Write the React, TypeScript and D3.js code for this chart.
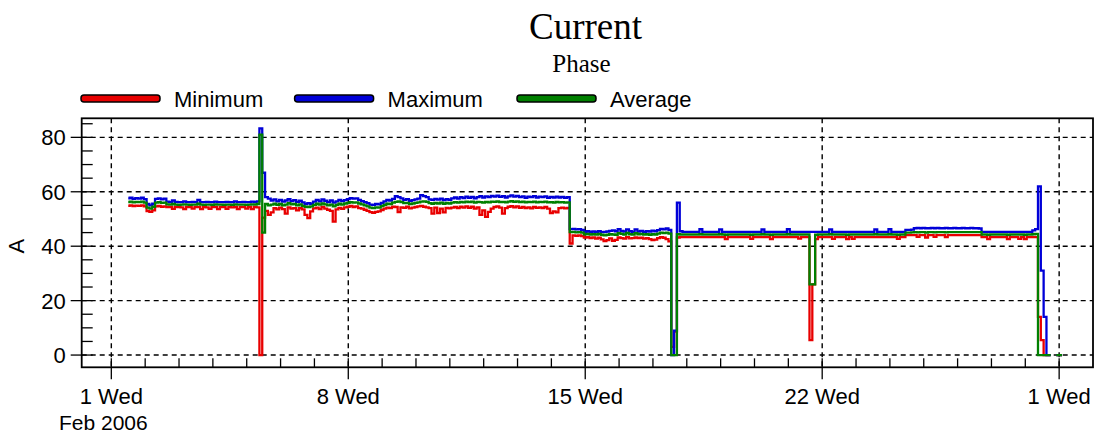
import React from 'react';
import * as d3 from 'd3';

const title = 'Current';
const subtitle = 'Phase';
const yAxisLabel = 'A';
const seriesNames = ['Minimum', 'Maximum', 'Average'];
const seriesColors = ['#e80000', '#0000d8', '#008000'];
const yTicks = [0, 20, 40, 60, 80];
const yMinorTicks = [0, 5, 10, 15, 20, 25, 30, 35, 40, 45, 50, 55, 60, 65, 70, 75, 80, 85];
const xTickDates = ['2006-02-01', '2006-02-08', '2006-02-15', '2006-02-22', '2006-03-01'];
const xTickLabels = ['1 Wed', '8 Wed', '15 Wed', '22 Wed', '1 Wed'];
const xSubLabel = 'Feb 2006';
const xDomain = ['2006-01-31T03:00:00Z', '2006-03-02T00:00:00Z'];
const yDomain = [-4.5, 87];
const firstSample = '2006-02-01T12:00:00Z';
const sampleStepHours = 2;

// Maximum (A), one value per 2-hour sample
const maxVals: (number | null)[] = [
  57.6, 57.8, 57.4, 57.7, 57.5, 57.8, 57.3,
  55.5, 55.0, 55.6,
  57.4, 57.6, 57.2, 57.5,
  56.4, 56.2, 56.8, 56.3, 56.2, 56.2, 56.5, 56.2, 56.2, 56.3,
  56.2, 57.0, 56.2, 56.2, 56.3, 56.2, 56.2, 56.4, 56.2, 56.2,
  56.2, 56.3, 56.2, 56.2, 56.5, 56.2, 56.2, 56.3, 56.2, 56.2,
  56.4, 56.2, 56.5,
  83.3, 67, 58, 57.5, 56.8, 57.2, 56.5, 57, 56.4, 56.8,
  57.3, 56.6, 56.9, 56.3, 56.7, 56.1, 55.5, 55.8, 55.6, 56.4,
  57, 56.5, 57.2, 56.7, 56.2, 56.8, 56, 56.5, 57, 56.6,
  56.9, 57.3, 57.7, 57.5, 57.6, 57, 56.6, 56.2, 55.8, 55.3,
  55.2, 55.5, 55.4, 55.9, 56.5, 57, 56.8, 57.4, 58.4, 58,
  57.6, 57, 57.3, 56.7, 56.9, 57.2, 57.5, 58.8, 58.4, 58,
  57.2, 57, 57.4, 57.1, 57.5, 56.9, 57.3, 57, 57.6, 57.9,
  57.5, 58, 57.7, 58.2, 57.8, 58.1, 57.6, 58, 58.4, 57.9,
  58.3, 58, 58.5, 58.2, 58.6, 58.1, 58.4, 57.9, 58.3, 58.7,
  58.2, 58.5, 58, 58.3, 57.8, 58.2, 58, 58.4, 57.9, 58.2,
  58, 58.3, 57.8, 58.1, 57.9, 58.2, 57.9, 58.1, 57.8, 58,
  46.3, 46.4, 46.2, 46.3, 46, 45.3, 45.5, 45.2, 45.4, 45.3,
  45.5, 45.2, 45.3, 45.4, 45.6, 45.8, 45.5, 46.3, 45.6, 45.4,
  46.2, 45.5, 45.3, 46.2, 45.4, 45.6, 45.3, 45.5, 45.4, 45.7,
  45.5, 45.9, 46.4, 46.2, 46.5, 46, 0, 9, 56,
  45.5, 45.3, 45.3, 45.3, 45.3, 45.3, 45.3, 46.3, 45.3, 45.3,
  45.3, 45.3, 45.3, 45.3, 46.2, 45.3, 45.3, 45.3, 45.3, 45.3,
  45.3, 45.3, 45.3, 45.3, 45.3, 45.3, 45.3, 45.3, 45.3, 46.2,
  45.3, 45.3, 45.3, 45.3, 45.3, 45.3, 45.3, 45.3, 46.3, 45.3,
  45.3, 45.3, 45.3, 45.3, 45.3, 45.3,
  45.3, 45.3,
  45.3, 45.3, 45.3, 45.3, 45.3, 46.2, 45.3, 45.3, 45.3, 45.3,
  45.3, 45.3, 45.3, 45.3, 45.3, 45.3, 45.3, 45.3, 45.3, 45.3,
  45.3, 46.2, 45.3, 45.3, 45.3, 45.3, 46.3, 45.3, 45.3, 45.3,
  45.3, 45.3,
  46, 46, 46.1, 46.6, 46.7, 46.6, 46.7, 46.6, 46.6, 46.7,
  46.6, 46.7, 46.6, 46.6, 46.7, 46.6, 46.6, 46.7, 46.6, 46.6,
  46.7, 46.6, 46.6, 46.7, 46.6, 46.6, 46.5,
  45.3, 45.3, 45.3, 45.3, 45.3, 45.3, 45.3, 45.3, 45.3, 45.3,
  45.3, 45.3, 45.3, 45.3, 45.3, 45.3, 45.3, 45.3, 45.8, 46.3,
  62, 31, 14, 0, 0, null, 0, 0, 0,
];

// Average (A)
const avgVals: (number | null)[] = [
  56.2, 56.4, 56.1, 56.3, 56.2, 56.4, 56.0,
  54.2, 53.8, 54.5,
  56.0, 56.2, 55.9, 56.0,
  55.4, 55.3, 55.5, 55.3, 55.2, 55.3, 55.4, 55.3, 55.2, 55.3,
  55.3, 55.6, 55.3, 55.2, 55.3, 55.3, 55.2, 55.4, 55.3, 55.3,
  55.2, 55.3, 55.3, 55.2, 55.4, 55.3, 55.3, 55.3, 55.2, 55.3,
  55.4, 55.3, 55.5,
  81, 45, 55.5, 55, 55.3, 55.6, 55.2, 55.5, 55, 55.3,
  55.8, 55.4, 55.5, 55, 55.4, 54.8, 54.5, 54.4, 54.6, 55.2,
  55.6, 55.3, 55.7, 55.4, 55, 55.3, 54.6, 55.2, 55.6, 55.3,
  55.7, 55.9, 56.2, 56, 56.1, 55.7, 55.4, 55, 54.6, 54.2,
  54, 54.3, 54.2, 54.7, 55.2, 55.6, 55.5, 56, 56.3, 56.5,
  56.2, 55.8, 55.9, 55.5, 55.7, 55.9, 56.1, 56.4, 56.5, 56.3,
  55.8, 55.6, 55.9, 55.7, 56, 55.6, 55.9, 55.7, 56, 56.2,
  56, 56.3, 56.1, 56.4, 56.2, 56.4, 56, 56.3, 56.2, 56,
  56.3, 56.1, 56.4, 56.3, 56.5, 56.2, 56.3, 56.1, 56.4, 56.6,
  56.3, 56.5, 56.2, 56.4, 56.1, 56.3, 56.2, 56.4, 56.1, 56.3,
  56.2, 56.4, 56.1, 56.2, 56, 56.3, 56.1, 56.2, 56, 56.1,
  45.2, 45.3, 45.1, 45.2, 45, 44.4, 44.5, 44.3, 44.4, 44.3,
  44.5, 44.2, 44, 44.2, 44.4, 44.3, 44.2, 44.8, 44.5, 44.3,
  44.9, 44.4, 44.3, 44.8, 44.4, 44.5, 44.3, 44.4, 44.2, 44.4,
  44.3, 44.6, 45, 44.8, 45, 44.6, 0, 0, 44.4,
  44.3, 44.3, 44.3, 44.3, 44.3, 44.3, 44.3, 44.4, 44.3, 44.3,
  44.3, 44.3, 44.3, 44.3, 44.4, 44.3, 44.2, 44.3, 44.3, 44.3,
  44.3, 44.3, 44.3, 44.3, 44.3, 44.2, 44.3, 44.3, 44.3, 44.4,
  44.3, 44.3, 44.2, 44.3, 44.3, 44.3, 44.3, 44.3, 44.4, 44.3,
  44.3, 44.3, 44.3, 44.3, 44.3, 44.3,
  26, 26,
  44.2, 44.3, 44.3, 44.3, 44.3, 44.4, 44.3, 44.3, 44.3, 44.3,
  44.3, 44.2, 44.3, 44.3, 44.3, 44.3, 44.3, 44.3, 44.3, 44.3,
  44.3, 44.4, 44.3, 44.3, 44.3, 44.3, 44.4, 44.3, 44.3, 44.2,
  44.3, 44.3,
  45.0, 45.0, 45.1, 45.2, 45.1, 45.2, 45.2, 45.0, 45.2, 45.2,
  45.1, 45.2, 45.2, 45.2, 45.1, 45.2, 45.2, 45.2, 45.2, 45.2,
  45.2, 45.2, 45.2, 45.2, 45.2, 45.2, 45.2,
  44.3, 44.3, 44.2, 44.3, 44.3, 44.3, 44.3, 44.3, 44.3, 44.2,
  44.3, 44.3, 44.3, 44.3, 44.3, 44.2, 44.3, 44.3, 44.4, 44.5,
  0, 0, 0, 0, 0, null, 0, 0, 0,
];

// Minimum (A)
const minVals: (number | null)[] = [
  54.8, 55.0, 54.7, 54.9, 54.8, 55.0, 54.6,
  52.9, 52.6, 53.2,
  54.6, 54.8, 54.5, 54.6,
  54.4, 54.4, 53.7, 54.4, 54.4, 54.3, 53.6, 54.4, 54.4, 53.8,
  54.4, 54.4, 53.6, 54.4, 54.3, 53.7, 54.4, 54.4, 53.6, 54.4,
  54.4, 53.7, 54.4, 54.3, 54.4, 53.6, 54.4, 54.4, 53.8, 54.4,
  53.6, 54.4, 54.3,
  0, 50.5, 53, 51.5, 52.4, 54, 53.5, 54.2, 53.6, 52,
  54.3, 53.8, 54, 53.2, 54, 53.5, 51.5, 50.3, 52.8, 53.9,
  54.2, 53.6, 54.4, 53.8, 53.4, 53, 49, 53.5, 54.1, 53.7,
  54.3, 54.5, 54.8, 54.4, 54.6, 54, 53.8, 53.4, 53, 52.5,
  52.3, 52.6, 52.8, 53.3, 53.8, 54.2, 54, 54.5, 54.4, 52.5,
  54.3, 54.1, 54.5, 53.9, 54.2, 54.4, 54.6, 54.8, 54.5, 54.3,
  54, 52, 54.2, 52.2, 53.8, 52.4, 54.1, 53.9, 54.2, 54.4,
  54, 54.5, 54.2, 54.6, 54.1, 54.5, 53.8, 54.3, 51.5, 53.2,
  50.8, 52.6, 53.8, 54.4, 54.6, 54.2, 52, 54, 54.5, 54.7,
  54.3, 54.6, 54.1, 54.4, 54, 54.3, 53.9, 54.4, 54.1, 54.3,
  54, 54.4, 53.8, 52.2, 52.8, 52.4, 54, 54.2, 53.9, 54.1,
  41, 44, 43.8, 44, 43.7, 43.2, 43.3, 43, 43.2, 42.8,
  43.1, 42.5, 41.9, 42.2, 42.9, 42, 42.3, 43.2, 43, 42.8,
  43.3, 42.9, 43, 43.2, 43, 43.1, 42.8, 43, 42.6, 42.2,
  42.4, 43, 43.3, 43.1, 42.6, 41.8, 3, 8.6, 43.2,
  43.3, 43.3, 43.3, 43.3, 43.3, 43.3, 43.3, 43.3, 43.3, 43.3,
  43.3, 43.3, 43.3, 43.3, 43.3, 43.3, 42.6, 43.3, 43.3, 43.3,
  43.3, 43.3, 43.3, 43.3, 43.3, 42.7, 43.3, 43.3, 43.3, 43.3,
  43.3, 43.3, 42.6, 43.3, 43.3, 43.3, 43.3, 43.3, 43.3, 43.3,
  43.3, 43.3, 42.8, 43.3, 43.3, 43.3,
  5.5, 26,
  42.6, 43.3, 43.3, 43.3, 43.3, 43.3, 42.7, 43.3, 43.3, 43.3,
  43.3, 42.6, 43.3, 42.7, 43.3, 43.3, 43.3, 43.3, 43.3, 43.3,
  43.3, 43.3, 43.3, 43.3, 43.3, 43.3, 43.3, 43.3, 43.3, 42.7,
  43.3, 43.3,
  44.1, 44.1, 44.1, 44.1, 43.4, 44.1, 44.1, 43.2, 44.1, 44.1,
  43.4, 44.1, 44.1, 44.1, 43.3, 44.1, 44.1, 44.1, 44.1, 44.1,
  44.1, 44.1, 44.1, 44.1, 44.1, 44.1, 44.1,
  43.3, 43.3, 42.6, 43.3, 43.3, 43.3, 43.3, 43.3, 43.3, 42.6,
  43.3, 43.3, 43.3, 42.7, 43.3, 42.6, 43.3, 43.3, 43.3, 43.3,
  14, 5.5, 0, 0, 0, null, 0, 0, 0,
];

const W = 1107;
const H = 436;
const plot = { left: 81.7, right: 1093, top: 118.3, bottom: 367.3 };
const SANS = '"Liberation Sans", Arial, sans-serif';
const SERIF = '"Liberation Serif", "Times New Roman", serif';
const FS = 22;

export default function App() {
  const x = d3
    .scaleUtc()
    .domain(xDomain.map((d) => new Date(d)))
    .range([plot.left, plot.right]);
  const y = d3.scaleLinear().domain(yDomain).range([plot.bottom, plot.top]);
  const t0 = new Date(firstSample);
  const timeAt = (i: number) => d3.utcHour.offset(t0, i * sampleStepHours);

  const line = d3
    .line<number | null>()
    .defined((v) => v != null)
    .curve(d3.curveStep)
    .x((_, i) => x(timeAt(i)))
    .y((v) => y(v as number));

  const series = [minVals, maxVals, avgVals];
  const majorX = xTickDates.map((d) => new Date(d + 'T00:00:00Z'));
  const [d0, d1] = x.domain();
  const minorX = d3.utcDay.range(d0, d1);

  const legendX = [81, 294.6, 517];
  const legendY = 98.5;

  return (
    <svg
      width={W}
      height={H}
      style={{ position: 'absolute', left: 0, top: 0, background: '#fff' }}
      xmlns="http://www.w3.org/2000/svg"
    >
      <rect x={0} y={0} width={W} height={H} fill="#fff" />
      <text x={585.5} y={38.5} textAnchor="middle" fontFamily={SERIF} fontSize={37} fill="#000">
        {title}
      </text>
      <text x={581.5} y={71.5} textAnchor="middle" fontFamily={SERIF} fontSize={25} fill="#000">
        {subtitle}
      </text>

      {seriesNames.map((name, i) => (
        <g key={name}>
          <rect
            x={legendX[i]}
            y={legendY - 3.5}
            width={79}
            height={7}
            rx={3}
            fill={seriesColors[i]}
            stroke="#000"
            strokeWidth={1.5}
          />
          <text x={legendX[i] + 93} y={legendY + 8.5} fontFamily={SANS} fontSize={FS} fill="#000">
            {name}
          </text>
        </g>
      ))}

      <defs>
        <clipPath id="plotclip">
          <rect x={plot.left} y={plot.top} width={plot.right - plot.left} height={plot.bottom - plot.top} />
        </clipPath>
      </defs>

      {/* grid */}
      {yTicks.map((v) => (
        <line
          key={'gy' + v}
          x1={plot.left}
          x2={plot.right}
          y1={y(v)}
          y2={y(v)}
          stroke="#000"
          strokeWidth={1.4}
          strokeDasharray="5,4"
        />
      ))}
      {majorX.map((d, i) => (
        <line
          key={'gx' + i}
          x1={x(d)}
          x2={x(d)}
          y1={plot.top}
          y2={plot.bottom}
          stroke="#000"
          strokeWidth={1.4}
          strokeDasharray="5,4"
        />
      ))}

      {/* data */}
      <g clipPath="url(#plotclip)">
        {series.map((vals, i) => (
          <path
            key={seriesNames[i]}
            d={line(vals) || ''}
            fill="none"
            stroke={seriesColors[i]}
            strokeWidth={2.3}
            strokeLinejoin="miter"
          />
        ))}
      </g>

      {/* frame */}
      <rect
        x={plot.left}
        y={plot.top}
        width={plot.right - plot.left}
        height={plot.bottom - plot.top}
        fill="none"
        stroke="#000"
        strokeWidth={1.8}
      />

      {/* y axis ticks */}
      {yMinorTicks.map((v) => (
        <line key={'ym' + v} x1={plot.left} x2={plot.left + 11} y1={y(v)} y2={y(v)} stroke="#000" strokeWidth={1.3} />
      ))}
      {yTicks.map((v) => (
        <g key={'yt' + v}>
          <line x1={plot.left - 11} x2={plot.left} y1={y(v)} y2={y(v)} stroke="#000" strokeWidth={1.3} />
          <text x={plot.left - 16} y={y(v)} dy="0.36em" textAnchor="end" fontFamily={SANS} fontSize={FS} fill="#000">
            {v}
          </text>
        </g>
      ))}
      <text
        transform={`translate(${24},${y(40)}) rotate(-90)`}
        textAnchor="middle"
        fontFamily={SANS}
        fontSize={FS}
        fill="#000"
      >
        {yAxisLabel}
      </text>

      {/* x axis ticks */}
      {minorX.map((d, i) => (
        <line key={'xm' + i} x1={x(d)} x2={x(d)} y1={plot.bottom - 9} y2={plot.bottom} stroke="#000" strokeWidth={1.3} />
      ))}
      {majorX.map((d, i) => (
        <g key={'xt' + i}>
          <line x1={x(d)} x2={x(d)} y1={plot.bottom} y2={plot.bottom + 12} stroke="#000" strokeWidth={1.3} />
          <text x={x(d)} y={404} textAnchor="middle" fontFamily={SANS} fontSize={FS} fill="#000">
            {xTickLabels[i]}
          </text>
        </g>
      ))}
      <text x={x(majorX[0]) - 8} y={430} textAnchor="middle" fontFamily={SANS} fontSize={21} fill="#000">
        {xSubLabel}
      </text>
    </svg>
  );
}
